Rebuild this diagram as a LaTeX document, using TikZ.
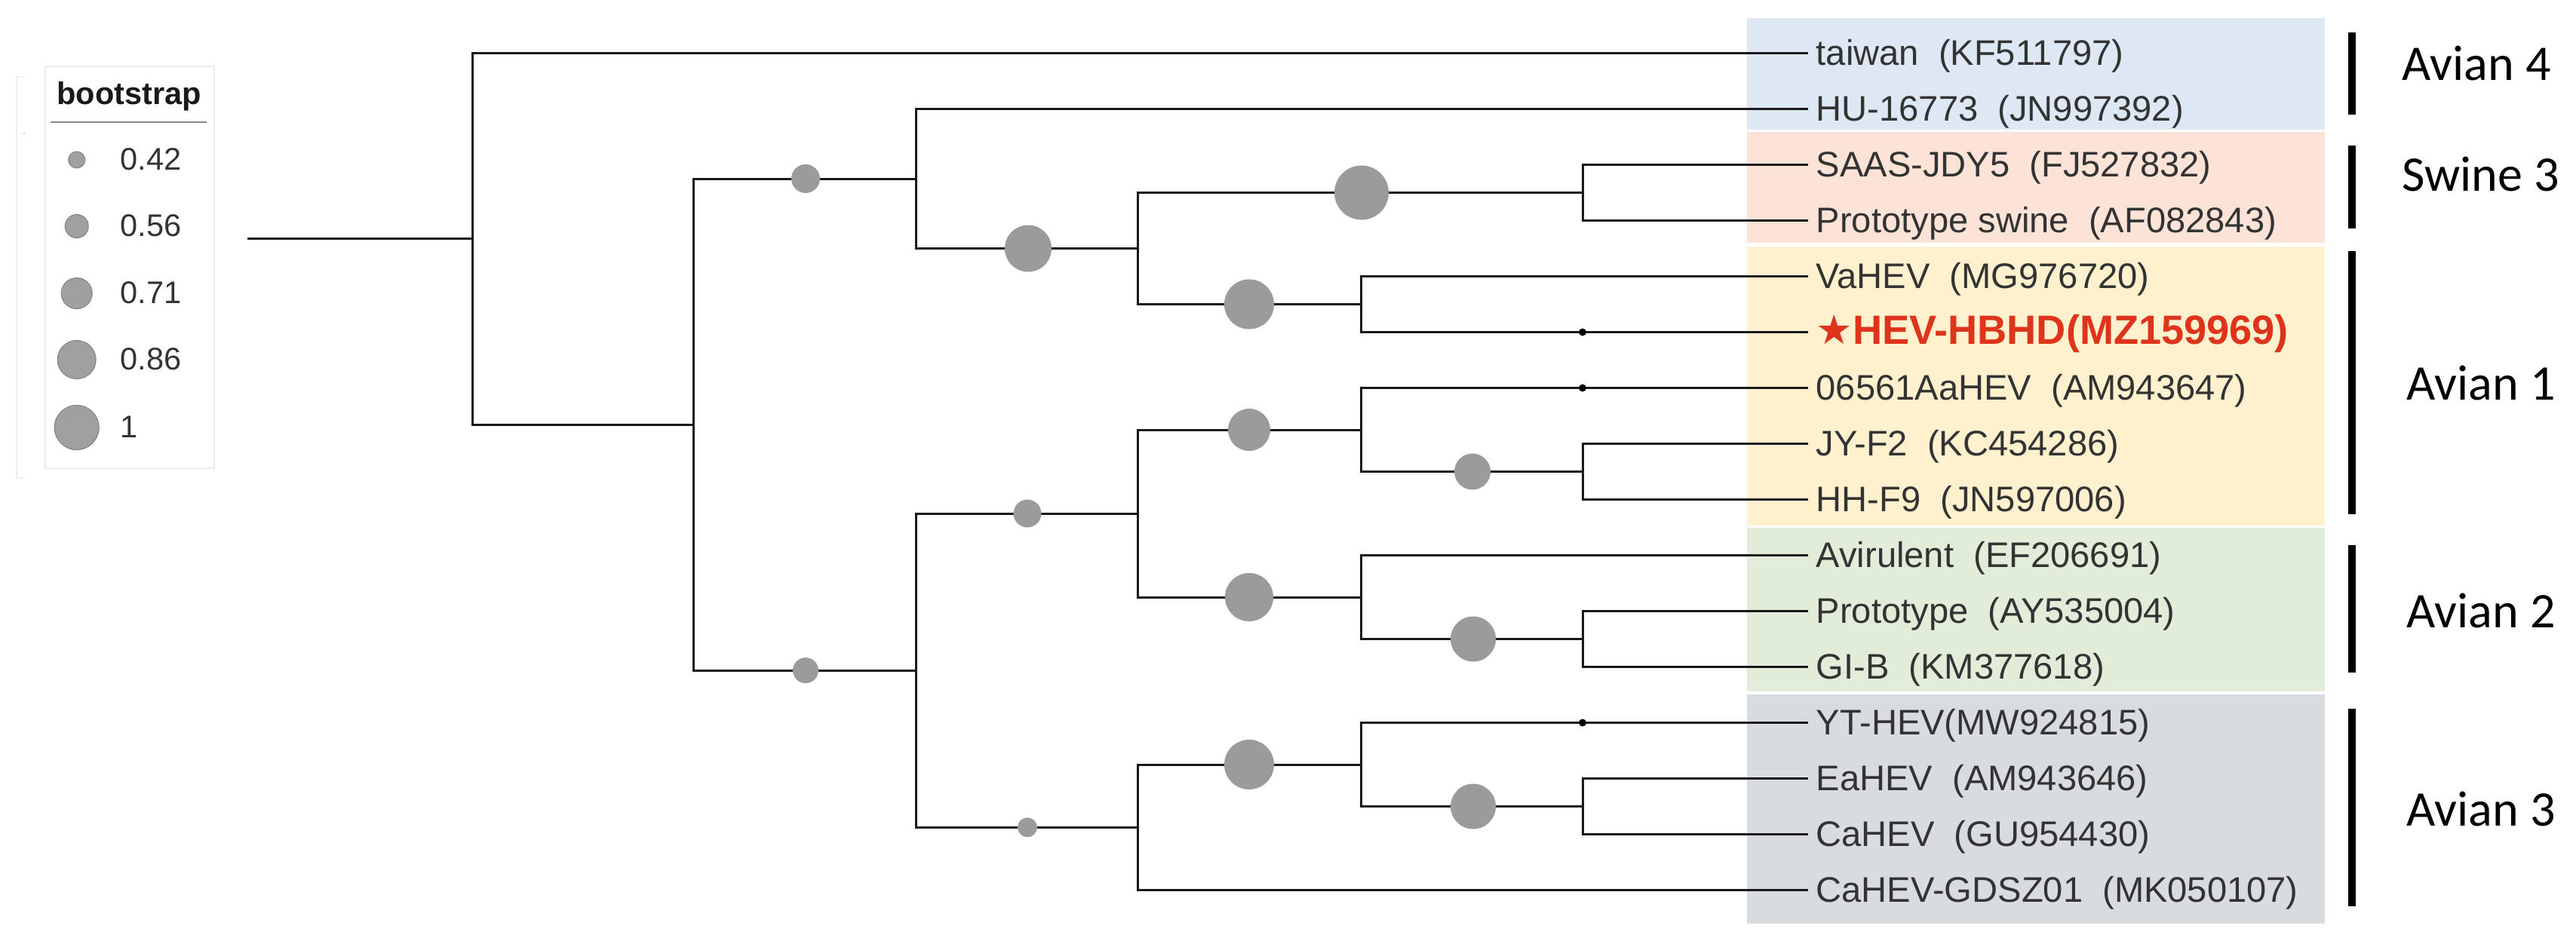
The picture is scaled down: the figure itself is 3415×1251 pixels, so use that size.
\documentclass[tikz,border=0pt]{standalone}
\usepackage{fontspec}
\setmainfont{Liberation Sans}
\newfontfamily\calfont{Carlito}
\newfontfamily\symfont{DejaVu Sans}
\definecolor{bootgray}{HTML}{9B9B9B}
\definecolor{labtext}{HTML}{333333}
\definecolor{hevred}{HTML}{DE341C}
\definecolor{bandblue}{HTML}{DDE8F4}
\definecolor{bandsalmon}{HTML}{FBE3D7}
\definecolor{bandyellow}{HTML}{FFF1CE}
\definecolor{bandgreen}{HTML}{E2EDD9}
\definecolor{bandgray}{HTML}{D8DBE0}
\begin{document}
\begin{tikzpicture}[x=0.01cm,y=-0.01cm,
  br/.style={line width=0.03cm, black!90, line cap=rect},
  bs/.style={circle, fill=bootgray, inner sep=0pt, draw=none},
  tipdot/.style={circle, fill=black, inner sep=0pt, minimum size=0.1cm},
  leaf/.style={anchor=base west, inner sep=0pt, font=\fontsize{13.4}{16}\selectfont, text=labtext},
  grp/.style={anchor=base west, inner sep=0pt, font=\calfont\fontsize{18.8}{22}\selectfont},
  grpbar/.style={line width=0.1cm, black},
  band/.style={draw=none},
  lgc/.style={circle, fill=bootgray!95, draw=black!50, line width=0.01cm, inner sep=0pt},
  lgt/.style={anchor=base west, inner sep=0pt, font=\fontsize{11.8}{14}\selectfont, text=labtext}
]
\useasboundingbox (0,0) rectangle (3415,1251);

% ---------- coloured bands ----------
\fill[bandblue]   (2316,24)  rectangle (3082,172);
\fill[bandsalmon] (2316,175) rectangle (3082,322);
\fill[bandyellow] (2316,327) rectangle (3082,697);
\fill[bandgreen]  (2316,700) rectangle (3082,917);
\fill[bandgray]   (2316,921) rectangle (3082,1225);

% ---------- legend ----------
\draw[black!6, line width=0.015cm] (33,102) -- (22,102) -- (22,634) -- (33,634);
\fill[black!25] (32,177) circle (1.2);
\draw[black!8, line width=0.015cm] (60,88) rectangle (284,621);
\node[anchor=base, inner sep=0pt, font=\bfseries\fontsize{11.8}{14}\selectfont, text=black!90] (bt) at (171,138.5) {bootstrap};
\coordinate (ll) at (67,162);
\coordinate (lr) at (274,162);
\draw[black!45, line width=0.02cm] (ll) -- (lr);
\node[lgc, minimum size=0.22cm]  (lc1) at (101.7,212) {};
\node[lgc, minimum size=0.31cm]  (lc2) at (101.7,300) {};
\node[lgc, minimum size=0.41cm]  (lc3) at (101.7,389) {};
\node[lgc, minimum size=0.51cm]  (lc4) at (101.7,477) {};
\node[lgc, minimum size=0.59cm]  (lc5) at (101.7,567) {};
\node[lgt] (lt1) at (159,225) {0.42};
\node[lgt] (lt2) at (159,313) {0.56};
\node[lgt] (lt3) at (159,402) {0.71};
\node[lgt] (lt4) at (159,490) {0.86};
\node[lgt] (lt5) at (159,580) {1};

% ---------- tree coordinates ----------
\coordinate (r0) at (329,316.8);
\coordinate (n1) at (626,316.8);
\coordinate (n2) at (919,563);
\coordinate (n3) at (1214,237);
\coordinate (n4) at (1508,329.5);
\coordinate (n5) at (2098,255.5);
\coordinate (n6) at (1804,403.5);
\coordinate (n7) at (1214,889.1);
\coordinate (n8) at (1508,681);
\coordinate (n9) at (1804,570);
\coordinate (n10) at (2098,625.5);
\coordinate (n11) at (1804,792);
\coordinate (n11b) at (2098,847.5);
\coordinate (n12) at (1508,1097.3);
\coordinate (n13) at (1804,1014);
\coordinate (n14) at (2098,1069.5);

\coordinate (e1) at (2395,70.5);
\coordinate (e2) at (2395,144.5);
\coordinate (e3) at (2395,218.5);
\coordinate (e4) at (2395,292.5);
\coordinate (e5) at (2395,366.5);
\coordinate (e6) at (2395,440.5);
\coordinate (e7) at (2395,514.5);
\coordinate (e8) at (2395,588.5);
\coordinate (e9) at (2395,662.5);
\coordinate (e10) at (2395,736.5);
\coordinate (e11) at (2395,810.5);
\coordinate (e12) at (2395,884.5);
\coordinate (e13) at (2395,958.5);
\coordinate (e14) at (2395,1032.5);
\coordinate (e15) at (2395,1106.5);
\coordinate (e16) at (2395,1180.5);

% ---------- branches ----------
\draw[br] (r0) -- (n1);
\draw[br] (n1) |- (e1);
\draw[br] (n1) |- (n2);
\draw[br] (n2) |- (n3);
\draw[br] (n2) |- (n7);
\draw[br] (n3) |- (e2);
\draw[br] (n3) |- (n4);
\draw[br] (n4) |- (n5);
\draw[br] (n4) |- (n6);
\draw[br] (n5) |- (e3);
\draw[br] (n5) |- (e4);
\draw[br] (n6) |- (e5);
\draw[br] (n6) |- (e6);
\draw[br] (n7) |- (n8);
\draw[br] (n7) |- (n12);
\draw[br] (n8) |- (n9);
\draw[br] (n8) |- (n11);
\draw[br] (n9) |- (e7);
\draw[br] (n9) |- (n10);
\draw[br] (n10) |- (e8);
\draw[br] (n10) |- (e9);
\draw[br] (n11) |- (e10);
\draw[br] (n11) |- (n11b);
\draw[br] (n11b) |- (e11);
\draw[br] (n11b) |- (e12);
\draw[br] (n12) |- (n13);
\draw[br] (n12) |- (e16);
\draw[br] (n13) |- (e13);
\draw[br] (n13) |- (n14);
\draw[br] (n14) |- (e14);
\draw[br] (n14) |- (e15);

% ---------- bootstrap circles ----------
\node[bs, minimum size=0.38cm] (b1)  at (1068,237) {};
\node[bs, minimum size=0.34cm] (b2)  at (1068,889.1) {};
\node[bs, minimum size=0.62cm] (b3)  at (1363,329.5) {};
\node[bs, minimum size=0.72cm] (b4)  at (1805,255.5) {};
\node[bs, minimum size=0.66cm] (b5)  at (1656,403.5) {};
\node[bs, minimum size=0.37cm] (b6)  at (1362,681) {};
\node[bs, minimum size=0.26cm] (b7)  at (1362,1097.3) {};
\node[bs, minimum size=0.56cm] (b8)  at (1656,570) {};
\node[bs, minimum size=0.48cm] (b9)  at (1952,625.5) {};
\node[bs, minimum size=0.64cm] (b10) at (1656,792) {};
\node[bs, minimum size=0.60cm] (b11) at (1953,847.5) {};
\node[bs, minimum size=0.66cm] (b12) at (1656,1014) {};
\node[bs, minimum size=0.60cm] (b13) at (1953,1069.5) {};
\node[tipdot] (d1) at (2098,440.5) {};
\node[tipdot] (d2) at (2098,514.5) {};
\node[tipdot] (d3) at (2098,958.5) {};

% ---------- leaf labels ----------
\node[leaf] (t1)  at (2407,86)   {taiwan\ \ (KF511797)};
\node[leaf] (t2)  at (2407,160)  {HU-16773\ \ (JN997392)};
\node[leaf] (t3)  at (2407,234)  {SAAS-JDY5\ \ (FJ527832)};
\node[leaf] (t4)  at (2407,308)  {Prototype swine\ \ (AF082843)};
\node[leaf] (t5)  at (2407,382)  {VaHEV\ \ (MG976720)};
\node[leaf, text=hevred, font=\bfseries\fontsize{15.4}{18}\selectfont] (t6) at (2407,456) {{\symfont ★}HEV-HBHD(MZ159969)};
\node[leaf] (t7)  at (2407,530)  {06561AaHEV\ \ (AM943647)};
\node[leaf] (t8)  at (2407,604)  {JY-F2\ \ (KC454286)};
\node[leaf] (t9)  at (2407,678)  {HH-F9\ \ (JN597006)};
\node[leaf] (t10) at (2407,752)  {Avirulent\ \ (EF206691)};
\node[leaf] (t11) at (2407,826)  {Prototype\ \ (AY535004)};
\node[leaf] (t12) at (2407,900)  {GI-B\ \ (KM377618)};
\node[leaf] (t13) at (2407,974)  {YT-HEV(MW924815)};
\node[leaf] (t14) at (2407,1048) {EaHEV\ \ (AM943646)};
\node[leaf] (t15) at (2407,1122) {CaHEV\ \ (GU954430)};
\node[leaf] (t16) at (2407,1196) {CaHEV-GDSZ01\ \ (MK050107)};

% ---------- group bars and labels ----------
\coordinate (g1a) at (3118,43);   \coordinate (g1b) at (3118,152);
\coordinate (g2a) at (3118,193);  \coordinate (g2b) at (3118,303);
\coordinate (g3a) at (3118,333);  \coordinate (g3b) at (3118,682);
\coordinate (g4a) at (3118,723);  \coordinate (g4b) at (3118,892);
\coordinate (g5a) at (3118,940);  \coordinate (g5b) at (3118,1202);
\draw[grpbar] (g1a) -- (g1b);
\draw[grpbar] (g2a) -- (g2b);
\draw[grpbar] (g3a) -- (g3b);
\draw[grpbar] (g4a) -- (g4b);
\draw[grpbar] (g5a) -- (g5b);
\node[grp] (G1) at (3184,106)  {Avian 4};
\node[grp] (G2) at (3184,253)  {Swine 3};
\node[grp] (G3) at (3190,530)  {Avian 1};
\node[grp] (G4) at (3190,832)  {Avian 2};
\node[grp] (G5) at (3190,1095) {Avian 3};
\end{tikzpicture}
\end{document}
